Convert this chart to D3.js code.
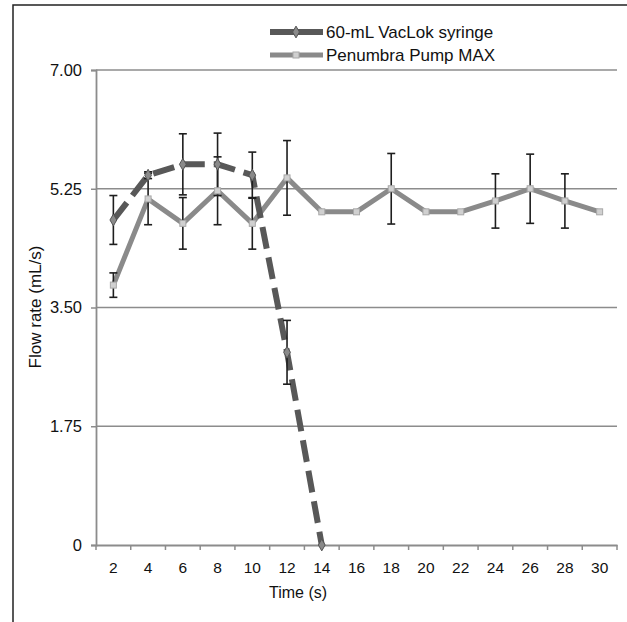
<!DOCTYPE html>
<html>
<head>
<meta charset="utf-8">
<script src="https://cdn.jsdelivr.net/npm/d3@7"></script>
<style>
  body { margin: 0; background: #fff; }
  text { font-family: "Liberation Sans", Arial, sans-serif; fill: #111; }
</style>
</head>
<body>
<svg id="chart" width="627" height="622"></svg>
<script>
// time points (s)
var times = [2, 4, 6, 8, 10, 12, 14, 16, 18, 20, 22, 24, 26, 28, 30];
var yTicks = [0, 1.75, 3.5, 5.25, 7];

// 60-mL VacLok syringe (stops at 14 s)
var syringeTimes = [2, 4, 6, 8, 10, 12, 14];
var syringeFlow = [4.79, 5.45, 5.61, 5.61, 5.45, 2.84, 0];
var syringeErr = [0.36, 0.05, 0.45, 0.46, 0.34, 0.47, 0];

// Penumbra Pump MAX
var pumpFlow = [3.83, 5.10, 4.74, 5.22, 4.74, 5.41, 4.91, 4.91, 5.25, 4.91, 4.91, 5.07, 5.25, 5.07, 4.91];
var pumpErr = [0.18, 0.38, 0.38, 0.5, 0.38, 0.55, 0, 0, 0.52, 0, 0, 0.4, 0.51, 0.4, 0];

var svg = d3.select("#chart");
var plotLeft = 96, plotRight = 617, plotTop = 70, plotBottom = 545;

// frame (top + left edges only, like the cropped figure)
svg.append("path")
    .attr("d", "M13,622V5H627")
    .attr("fill", "none")
    .attr("stroke", "#222")
    .attr("stroke-width", 1.5);

var x = d3.scaleBand().domain(times).range([plotLeft, plotRight]);
var y = d3.scaleLinear().domain([0, 7]).range([plotBottom, plotTop]);
function cx(t) { return x(t) + x.bandwidth() / 2; }

// gridlines
svg.append("g").selectAll("line")
  .data(yTicks.filter(function(d) { return d > 0; }))
  .enter().append("line")
    .attr("x1", plotLeft).attr("x2", plotRight)
    .attr("y1", function(d) { return y(d); })
    .attr("y2", function(d) { return y(d); })
    .attr("stroke", "#8c8c8c")
    .attr("stroke-width", 1.5);

// y axis
var yAxis = svg.append("g")
    .attr("transform", "translate(" + plotLeft + ",0)")
    .call(d3.axisLeft(y).tickValues(yTicks).tickSize(5).tickPadding(9)
      .tickFormat(function(d) { return d === 0 ? "0" : d3.format(".2f")(d); }));
yAxis.selectAll("text").style("font-size", "16.5px");

// x axis: ticks at band boundaries, labels at centers
var xAxis = svg.append("g")
    .attr("transform", "translate(0," + plotBottom + ")")
    .call(d3.axisBottom(x).tickSize(0).tickPadding(17));
xAxis.selectAll("text").style("font-size", "15.5px");
xAxis.append("g").selectAll("line")
  .data(d3.range(times.length + 1))
  .enter().append("line")
    .attr("x1", function(i) { return plotLeft + i * x.step(); })
    .attr("x2", function(i) { return plotLeft + i * x.step(); })
    .attr("y1", 0).attr("y2", 5)
    .attr("stroke", "#8c8c8c")
    .attr("stroke-width", 1.5);

svg.selectAll(".domain").attr("stroke", "#8c8c8c").attr("stroke-width", 1.8);
yAxis.selectAll(".tick line").attr("stroke", "#8c8c8c").attr("stroke-width", 1.5);

// axis titles
svg.append("text")
    .attr("x", 298).attr("y", 598)
    .attr("text-anchor", "middle")
    .style("font-size", "16px")
    .text("Time (s)");
svg.append("text")
    .attr("transform", "translate(41,307) rotate(-90)")
    .attr("text-anchor", "middle")
    .style("font-size", "17px")
    .text("Flow rate (mL/s)");

var line = d3.line()
    .x(function(d) { return cx(d[0]); })
    .y(function(d) { return y(d[1]); });

var pumpData = times.map(function(t, i) { return [t, pumpFlow[i], pumpErr[i]]; });
var syringeData = syringeTimes.map(function(t, i) { return [t, syringeFlow[i], syringeErr[i]]; });

// pump line
svg.append("path")
    .datum(pumpData)
    .attr("d", line)
    .attr("fill", "none")
    .attr("stroke", "#8a8a8a")
    .attr("stroke-width", 5)
    .attr("stroke-linejoin", "round");

// syringe line (dashed)
svg.append("path")
    .datum(syringeData)
    .attr("d", line)
    .attr("fill", "none")
    .attr("stroke", "#585858")
    .attr("stroke-width", 6)
    .attr("stroke-dasharray", "22,9");

// error bars
function errorBars(data) {
  var g = svg.append("g").selectAll("g")
    .data(data.filter(function(d) { return d[2] > 0; }))
    .enter().append("g")
      .attr("stroke", "#1e1e1e")
      .attr("stroke-width", 1.6);
  g.append("line")
    .attr("x1", function(d) { return cx(d[0]); })
    .attr("x2", function(d) { return cx(d[0]); })
    .attr("y1", function(d) { return y(d[1] + d[2]); })
    .attr("y2", function(d) { return y(d[1] - d[2]); });
  [1, -1].forEach(function(s) {
    g.append("line")
      .attr("x1", function(d) { return cx(d[0]) - 4; })
      .attr("x2", function(d) { return cx(d[0]) + 4; })
      .attr("y1", function(d) { return y(d[1] + s * d[2]); })
      .attr("y2", function(d) { return y(d[1] + s * d[2]); });
  });
}
errorBars(pumpData);
errorBars(syringeData);

// markers
svg.append("g").selectAll("rect")
  .data(pumpData)
  .enter().append("rect")
    .attr("x", function(d) { return cx(d[0]) - 3; })
    .attr("y", function(d) { return y(d[1]) - 3; })
    .attr("width", 6).attr("height", 6)
    .attr("fill", "#d0d0d0")
    .attr("stroke", "#a8a8a8");
svg.append("g").selectAll("path")
  .data(syringeData)
  .enter().append("path")
    .attr("d", d3.symbol().type(d3.symbolDiamond).size(40))
    .attr("transform", function(d) { return "translate(" + cx(d[0]) + "," + y(d[1]) + ")"; })
    .attr("fill", "#8a8a8a")
    .attr("stroke", "#555");

// legend
var legendItems = [
  { label: "60-mL VacLok syringe", color: "#585858", width: 6, marker: "diamond" },
  { label: "Penumbra Pump MAX", color: "#8a8a8a", width: 5, marker: "square" }
];
var legend = svg.append("g").selectAll("g")
  .data(legendItems)
  .enter().append("g")
    .attr("transform", function(d, i) { return "translate(270," + (32 + i * 23) + ")"; });
legend.append("line")
    .attr("x1", 0).attr("x2", 53)
    .attr("stroke", function(d) { return d.color; })
    .attr("stroke-width", function(d) { return d.width; });
legend.each(function(d) {
  var g = d3.select(this);
  if (d.marker === "diamond") {
    g.append("path")
      .attr("d", d3.symbol().type(d3.symbolDiamond).size(40))
      .attr("transform", "translate(26,0)")
      .attr("fill", "#8a8a8a").attr("stroke", "#555");
  } else {
    g.append("rect")
      .attr("x", 23).attr("y", -3).attr("width", 6).attr("height", 6)
      .attr("fill", "#d0d0d0").attr("stroke", "#a8a8a8");
  }
});
legend.append("text")
    .attr("x", 56).attr("dy", "0.35em")
    .style("font-size", "17px")
    .text(function(d) { return d.label; });
</script>
</body>
</html>
